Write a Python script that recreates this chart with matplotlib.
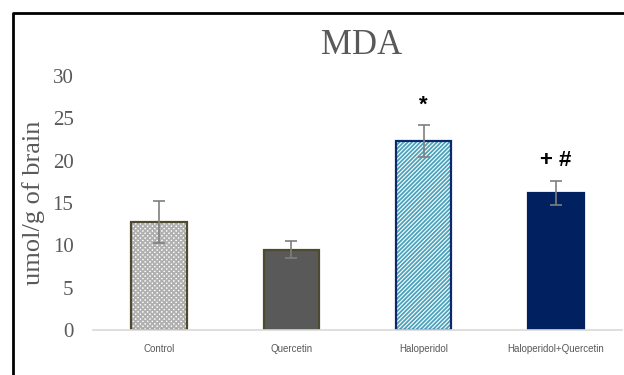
import matplotlib.pyplot as plt
from matplotlib.lines import Line2D

groups = ["Control", "Quercetin", "Haloperidol", "Haloperidol+Quercetin"]
mda = [12.8, 9.5, 22.3, 16.2]
sem = [2.5, 1.05, 1.9, 1.45]
marks = ["", "", "*", "+ #"]

plt.rcParams["hatch.linewidth"] = 1.3

fig = plt.figure(figsize=(6.24, 3.75), dpi=100)
ax = fig.add_axes([0.149, 0.12, 0.848, 0.677])

x = range(len(groups))
w = 0.42

# fills / hatches
ax.bar(0, mda[0], w, color="white", edgecolor="#b0b0b0", hatch="xxxxxxx", linewidth=0)
ax.bar(1, mda[1], w, color="#595959", linewidth=0)
ax.bar(2, mda[2], w, color="white", edgecolor="#4aa3bd", hatch="////////", linewidth=0)
ax.bar(3, mda[3], w, color="#002060", linewidth=0)
# outlines
edges = ["#4d4a2e", "#4d4a2e", "#0b2a6b", "#002060"]
for i in x:
    ax.bar(i, mda[i], w, fill=False, edgecolor=edges[i], linewidth=1.6)

ax.errorbar(list(x), mda, yerr=sem, fmt="none", ecolor="#7f7f7f",
            elinewidth=1.2, capsize=4.5, capthick=1.2)

for i in x:
    if marks[i]:
        ax.text(i, mda[i] + sem[i] + 2.4, marks[i], ha="center", va="center",
                fontsize=16, fontweight="bold", color="black",
                family="Liberation Sans")

ax.set_xlim(-0.5, 3.5)
ax.set_ylim(0, 30)
ax.set_yticks(range(0, 31, 5))
ax.set_xticks(list(x))
ax.set_xticklabels(groups, family="Liberation Sans", fontsize=7, color="#595959")
for lab in ax.get_yticklabels():
    lab.set_family("Liberation Serif")
    lab.set_fontsize(15)
    lab.set_color("#595959")
ax.tick_params(axis="y", length=0, pad=14)
ax.tick_params(axis="x", length=0, pad=10)
for s in ["top", "right", "left"]:
    ax.spines[s].set_visible(False)
ax.spines["bottom"].set_color("#d9d9d9")
ax.spines["bottom"].set_linewidth(1.2)

ax.set_ylabel("umol/g of brain", family="Liberation Serif", fontsize=19,
              color="#595959")
ax.yaxis.set_label_coords(-0.09, 0.5)

fig.text(362 / 624, 1 - 45 / 375, "MDA", ha="center", va="center",
         family="Liberation Serif", fontsize=25, color="#595959")

# frame around the figure
fx = 12.8 / 624
fy = 1 - 13.3 / 375
fig.add_artist(Line2D([fx, fx, 1.0], [0.0, fy, fy], transform=fig.transFigure,
                      color="black", linewidth=2.0))

fig.savefig("out.png", dpi=100)
